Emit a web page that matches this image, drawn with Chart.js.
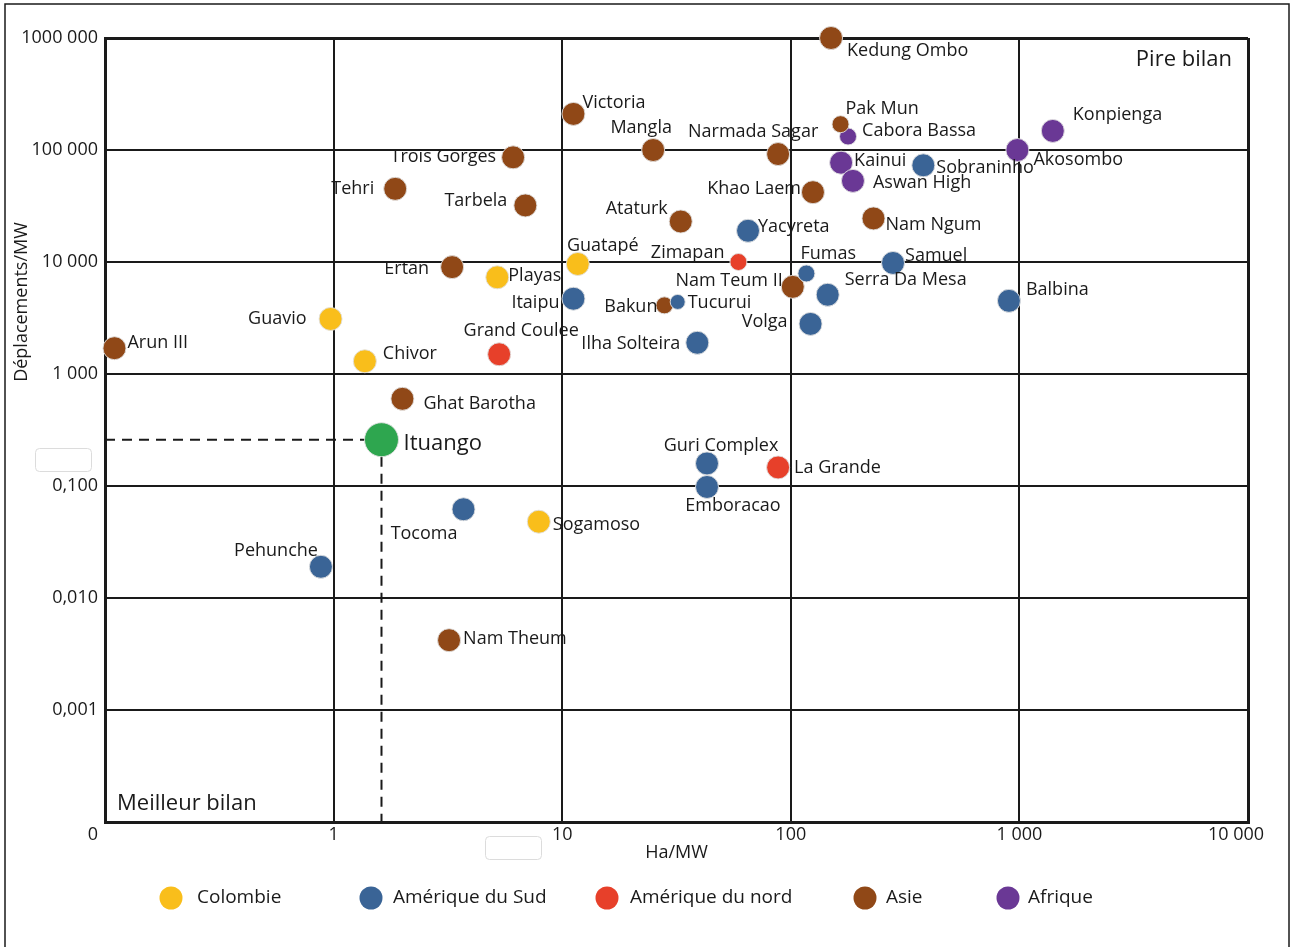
<!DOCTYPE html>
<html>
<head>
<meta charset="utf-8">
<script src="https://cdn.jsdelivr.net/npm/chart.js@4.4.1/dist/chart.umd.min.js"></script>
<style>
  html, body { margin: 0; padding: 0; background: #fff; }
  #chart { display: block; }
</style>
</head>
<body>
<canvas id="chart" width="1293" height="947"></canvas>
<script>
// Axis ticks
const xTickValues = [0.1, 1, 10, 100, 1000, 10000];
const xTickLabels = ['0', '1', '10', '100', '1 000', '10 000'];
const yTickLabels = ['', '0,001', '0,010', '0,100', '1 000', '10 000', '100 000', '1000 000'];

// Colombie
const colombieNames = ['Guavio', 'Chivor', 'Playas', 'Guatapé', 'Sogamoso'];
const colombieHa = [0.97, 1.37, 5.2, 11.7, 7.9];
const colombieDepl = [3100, 1300, 7300, 9600, 0.048];

// Amérique du Sud
const sudNames = ['Pehunche', 'Tocoma', 'Itaipu', 'Tucurui', 'Ilha Solteira', 'Yacyreta', 'Fumas',
  'Serra Da Mesa', 'Volga', 'Samuel', 'Sobraninho', 'Balbina', 'Guri Complex', 'Emboracao'];
const sudHa = [0.88, 3.7, 11.2, 32, 39, 65, 117, 145, 122, 280, 380, 900, 43, 43];
const sudDepl = [0.019, 0.062, 4700, 4400, 1900, 19000, 7900, 5100, 2800, 9800, 73000, 4500, 0.64, 0.098];

// Amérique du nord
const nordNames = ['Zimapan', 'Grand Coulee', 'La Grande'];
const nordHa = [59, 5.3, 88];
const nordDepl = [10000, 1500, 0.46];

// Asie
const asieNames = ['Arun III', 'Tehri', 'Trois Gorges', 'Tarbela', 'Ertan', 'Ghat Barotha', 'Victoria',
  'Mangla', 'Narmada Sagar', 'Ataturk', 'Khao Laem', 'Kedung Ombo', 'Pak Mun', 'Nam Ngum',
  'Nam Teum II', 'Bakun', 'Nam Theum'];
const asieHa = [0.11, 1.86, 6.1, 6.9, 3.3, 2.0, 11.2, 25, 88, 33, 125, 150, 165, 230, 102, 28, 3.2];
const asieDepl = [1700, 45000, 86000, 32000, 9000, 130, 210000, 100000, 92000, 23000, 42000,
  1000000, 170000, 24500, 6000, 4100, 0.0042];

// Afrique
const afriqueNames = ['Cabora Bassa', 'Kainui', 'Aswan High', 'Akosombo', 'Konpienga'];
const afriqueHa = [178, 166, 187, 980, 1400];
const afriqueDepl = [132000, 77000, 53000, 100000, 148000];

// Ituango
const ituangoHa = [1.62];
const ituangoDepl = [4.5];

// marker sizes
const smallMarks = ['Zimapan', 'Fumas', 'Pak Mun', 'Cabora Bassa', 'Bakun'];
const tinyMarks = ['Tucurui'];

// label offset from the mark: [dx, dy, align]
const labelPlacement = {
  'Guavio': [-24, 0, 'right'], 'Chivor': [18, -7, 'left'], 'Playas': [11, -1, 'left'],
  'Guatapé': [25, -18, 'center'], 'Sogamoso': [14, 3, 'left'],
  'Pehunche': [-3, -16, 'right'], 'Tocoma': [-6, 25, 'right'], 'Itaipu': [-14, 4, 'right'],
  'Tucurui': [10, 1, 'left'], 'Ilha Solteira': [-17, 1, 'right'], 'Yacyreta': [10, -4, 'left'],
  'Fumas': [-6, -20, 'left'], 'Serra Da Mesa': [17, -15, 'left'], 'Volga': [-23, -2, 'right'],
  'Samuel': [12, -7, 'left'], 'Sobraninho': [13, 3, 'left'], 'Balbina': [17, -11, 'left'],
  'Guri Complex': [14, -18, 'center'], 'Emboracao': [26, 19, 'center'],
  'Zimapan': [-14, -9, 'right'], 'Grand Coulee': [22, -23, 'center'], 'La Grande': [16, 0, 'left'],
  'Arun III': [13, -5, 'left'], 'Tehri': [-21, 0, 'right'], 'Trois Gorges': [-17, 0, 'right'],
  'Tarbela': [-18, -5, 'right'], 'Ertan': [-23, 2, 'right'], 'Ghat Barotha': [21, 5, 'left'],
  'Victoria': [9, -11, 'left'], 'Mangla': [-12, -22, 'center'], 'Narmada Sagar': [-25, -22, 'center'],
  'Ataturk': [-13, -13, 'right'], 'Khao Laem': [-12, -3, 'right'], 'Kedung Ombo': [16, 13, 'left'],
  'Pak Mun': [5, -15, 'left'], 'Nam Ngum': [12, 6, 'left'], 'Nam Teum II': [-10, -6, 'right'],
  'Bakun': [-7, 2, 'right'], 'Nam Theum': [14, -1, 'left'],
  'Cabora Bassa': [14, -6, 'left'], 'Kainui': [13, -2, 'left'], 'Aswan High': [20, 2, 'left'],
  'Akosombo': [16, 10, 'left'], 'Konpienga': [20, -16, 'left'],
  'Ituango': [22, 4, 'left']
};

const FONT = '"Open Sans", "DejaVu Sans", sans-serif';
const INK = '#1a1a1a';

// The y axis is broken between 0,100 and 1 000: each band is one decade,
// except that gap which squeezes four decades into one band.
function yPos(v) {
  const l = Math.log10(v);
  if (l >= 3) return l + 1;
  if (l <= -1) return l + 4;
  return 3 + (l + 1) / 4;
}

function radiusFor(name) {
  if (name === 'Ituango') return 17;
  if (tinyMarks.includes(name)) return 7.5;
  if (smallMarks.includes(name)) return 8.5;
  return 11.5;
}

function series(label, color, names, ha, depl, inLegend = true) {
  return {
    label,
    inLegend,
    backgroundColor: color,
    borderColor: 'rgba(225,225,225,0.9)',
    borderWidth: 1,
    clip: false,
    data: names.map((name, i) => ({ x: ha[i], y: yPos(depl[i]), name })),
    pointRadius: ctx => radiusFor(ctx.raw && ctx.raw.name),
    pointHoverRadius: ctx => radiusFor(ctx.raw && ctx.raw.name)
  };
}

const datasets = [
  series('Colombie', '#f9be1b', colombieNames, colombieHa, colombieDepl),
  series('Amérique du Sud', '#3a6496', sudNames, sudHa, sudDepl),
  series('Amérique du nord', '#e7402a', nordNames, nordHa, nordDepl),
  series('Asie', '#904817', asieNames, asieHa, asieDepl),
  series('Afrique', '#6a3895', afriqueNames, afriqueHa, afriqueDepl),
  series('Ituango', '#2ea64f', ['Ituango'], ituangoHa, ituangoDepl, false)
];

// dashed guides from Ituango to both axes
const ituangoGuides = {
  id: 'ituangoGuides',
  beforeDatasetsDraw(chart) {
    const { ctx, chartArea, scales } = chart;
    const x = scales.x.getPixelForValue(ituangoHa[0]);
    const y = scales.y.getPixelForValue(yPos(ituangoDepl[0]));
    ctx.save();
    ctx.strokeStyle = INK;
    ctx.lineWidth = 2;
    ctx.setLineDash([10, 7]);
    ctx.beginPath();
    ctx.moveTo(chartArea.left, y);
    ctx.lineTo(x, y);
    ctx.moveTo(x, y);
    ctx.lineTo(x, chartArea.bottom);
    ctx.stroke();
    ctx.restore();
  }
};

// dam names next to each mark
const damLabels = {
  id: 'damLabels',
  afterDatasetsDraw(chart) {
    const { ctx } = chart;
    ctx.save();
    ctx.fillStyle = INK;
    ctx.textBaseline = 'middle';
    chart.data.datasets.forEach((ds, di) => {
      chart.getDatasetMeta(di).data.forEach((pt, i) => {
        const name = ds.data[i].name;
        const [dx, dy, align] = labelPlacement[name] || [12, 0, 'left'];
        ctx.font = (name === 'Ituango' ? '22px ' : '18px ') + FONT;
        ctx.textAlign = align;
        ctx.fillText(name, pt.x + dx, pt.y + dy);
      });
    });
    ctx.restore();
  }
};

// the outer x labels ("0" and "10 000") sit a little left of their ticks
const edgeTickShift = {
  id: 'edgeTickShift',
  beforeDraw(chart) {
    const items = chart.scales.x.getLabelItems();
    if (items.shifted) return;
    items[0].options.translation[0] -= 12;
    items[items.length - 1].options.translation[0] -= 12;
    items.shifted = true;
  }
};

const legendDotX = [171, 371, 607, 865, 1008];
const legendTextX = [197, 393, 630, 886, 1028];

const decorations = {
  id: 'decorations',
  beforeDraw(chart) {
    const { ctx, width, height } = chart;
    ctx.save();
    ctx.fillStyle = '#fff';
    ctx.fillRect(0, 0, width, height);
    ctx.restore();
  },
  afterDraw(chart) {
    const { ctx, chartArea } = chart;
    ctx.save();

    // outer frame
    ctx.strokeStyle = INK;
    ctx.lineWidth = 1.5;
    ctx.strokeRect(5, 4, 1284, 960);

    // empty tag boxes on both axes
    ctx.strokeStyle = '#dcdcdc';
    ctx.lineWidth = 1;
    ctx.fillStyle = '#fff';
    [[35.5, 448.5], [485.5, 836.5]].forEach(([bx, by]) => {
      ctx.beginPath();
      ctx.roundRect(bx, by, 56, 23, 4);
      ctx.fill();
      ctx.stroke();
    });

    // corner notes
    ctx.fillStyle = INK;
    ctx.font = '22px ' + FONT;
    ctx.textBaseline = 'middle';
    ctx.textAlign = 'right';
    ctx.fillText('Pire bilan', chartArea.right - 16, chartArea.top + 22);
    ctx.textAlign = 'left';
    ctx.fillText('Meilleur bilan', chartArea.left + 12, chartArea.bottom - 18);

    // y axis title
    ctx.font = '18px ' + FONT;
    ctx.save();
    ctx.translate(22, 302);
    ctx.rotate(-Math.PI / 2);
    ctx.textAlign = 'center';
    ctx.fillText('Déplacements/MW', 0, 0);
    ctx.restore();

    // legend
    const items = chart.data.datasets.filter(ds => ds.inLegend);
    ctx.font = '19px ' + FONT;
    ctx.textAlign = 'left';
    items.forEach((ds, i) => {
      ctx.beginPath();
      ctx.arc(legendDotX[i], 898, 11.5, 0, Math.PI * 2);
      ctx.fillStyle = ds.backgroundColor;
      ctx.fill();
      ctx.fillStyle = INK;
      ctx.fillText(ds.label, legendTextX[i], 898);
    });

    ctx.restore();
  }
};

const edgeWidth = ctx => (ctx.index === 0 || ctx.index === ctx.scale.ticks.length - 1) ? 3 : 2;

new Chart(document.getElementById('chart'), {
  type: 'scatter',
  data: { datasets },
  options: {
    responsive: false,
    animation: false,
    layout: { padding: { top: 38, right: 45, bottom: 79, left: 0 } },
    font: { family: FONT },
    plugins: {
      legend: { display: false },
      tooltip: { enabled: false }
    },
    scales: {
      x: {
        type: 'logarithmic',
        min: 0.1,
        max: 10000,
        afterBuildTicks: scale => { scale.ticks = xTickValues.map(v => ({ value: v })); },
        afterFit: scale => { scale.height = 46; },
        grid: { color: INK, lineWidth: edgeWidth, drawTicks: false },
        border: { color: INK, width: 3 },
        ticks: {
          autoSkip: false,
          maxRotation: 0,
          padding: 2,
          color: INK,
          font: { family: FONT, size: 18 },
          callback: (value, index) => xTickLabels[index]
        },
        title: {
          display: true,
          text: 'Ha/MW',
          color: INK,
          font: { family: FONT, size: 18 },
          padding: { top: 0, bottom: 4 }
        }
      },
      y: {
        type: 'linear',
        min: 0,
        max: 7,
        afterFit: scale => { scale.width = 105; },
        grid: { color: INK, lineWidth: edgeWidth, drawTicks: false },
        border: { color: INK, width: 3 },
        ticks: {
          stepSize: 1,
          padding: 7,
          color: INK,
          font: { family: FONT, size: 18 },
          callback: value => yTickLabels[value]
        }
      }
    }
  },
  plugins: [decorations, edgeTickShift, ituangoGuides, damLabels]
});
</script>
</body>
</html>
